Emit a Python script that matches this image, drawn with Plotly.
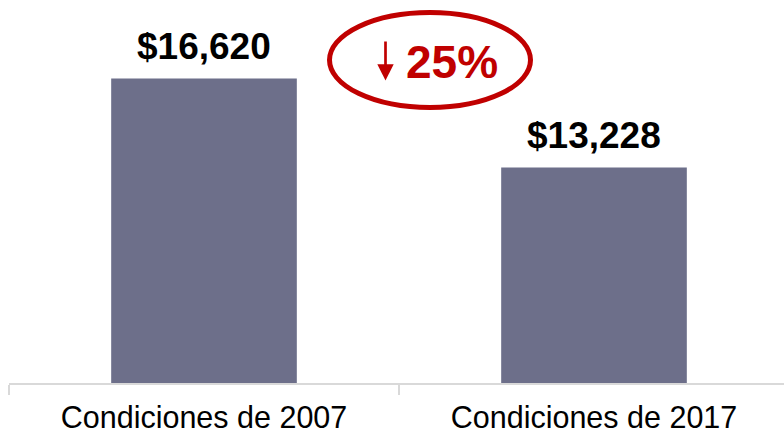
import plotly.graph_objects as go

# chart data
categories = ["Condiciones de 2007", "Condiciones de 2017"]
values = [16620, 13228]
value_labels = ["$16,620", "$13,228"]
change_label = "25%"

barColor = "#6d6f8a"
red = "#c00000"
gridGray = "#d9d9d9"

W, H = 784, 435
L, R, T, B = 9, 0, 0, 52   # margins in px
plotW = W - L - R
plotH = H - T - B


def px(x, y):   # figure pixels -> paper coords
    return (x - L) / plotW, (H - B - y) / plotH


fig = go.Figure()
fig.add_trace(go.Bar(
    x=categories,
    y=values,
    marker=dict(color=barColor, line=dict(width=0)),
    width=0.476,
    hoverinfo="skip",
))

# value labels above bars
for cat, val, lab in zip(categories, values, value_labels):
    fig.add_annotation(
        x=cat, y=val, text="<b>" + lab + "</b>",
        showarrow=False, yanchor="bottom", yshift=9,
        font=dict(family="Liberation Sans, Arial", size=37, color="#000000"),
    )

# red ellipse with down arrow and percentage
ex0, ey0 = px(329.5, 12.5)
ex1, ey1 = px(530.5, 107.5)
fig.add_shape(type="circle", xref="paper", yref="paper",
              x0=ex0, x1=ex1, y0=ey1, y1=ey0,
              line=dict(color=red, width=5))

lx0, ly0 = px(385.5, 41.5)
lx1, ly1 = px(385.5, 66)
fig.add_shape(type="line", xref="paper", yref="paper",
              x0=lx0, x1=lx1, y0=ly0, y1=ly1,
              line=dict(color=red, width=2.7))
ax, ay = px(377.3, 64.3)
bx, by = px(393.7, 64.3)
cx, cy = px(385.5, 80.5)
fig.add_shape(type="path", xref="paper", yref="paper",
              path=f"M {ax},{ay} L {bx},{by} L {cx},{cy} Z",
              fillcolor=red, line=dict(width=0))

tx, ty = px(452, 61.7)
fig.add_annotation(
    xref="paper", yref="paper", x=tx, y=ty,
    text="<b>" + change_label + "</b>", showarrow=False,
    xanchor="center", yanchor="middle",
    font=dict(family="Liberation Sans, Arial", size=46, color=red),
)

fig.update_layout(
    width=W, height=H,
    margin=dict(l=L, r=R, t=T, b=B),
    paper_bgcolor="white",
    plot_bgcolor="white",
    showlegend=False,
    xaxis=dict(
        type="category",
        automargin=False,
        range=[-0.5, -0.5 + plotW / 390.0],
        showline=True, linecolor=gridGray, linewidth=1.5,
        ticks="outside", tickson="boundaries",
        ticklen=10, tickwidth=1.5, tickcolor=gridGray,
        ticklabelstandoff=7,
        tickfont=dict(family="Liberation Sans, Arial", size=30.5, color="#000000"),
        showgrid=False, zeroline=False,
    ),
    yaxis=dict(
        automargin=False,
        range=[5015, 5015 + plotH / 0.02624],
        visible=False, showgrid=False, zeroline=False,
    ),
)

# drop the default page margin so the figure sits at the window corner
fig.write_html("out.html",
               config={"displayModeBar": False},
               post_script="document.body.style.margin='0';document.body.style.overflow='hidden';")
